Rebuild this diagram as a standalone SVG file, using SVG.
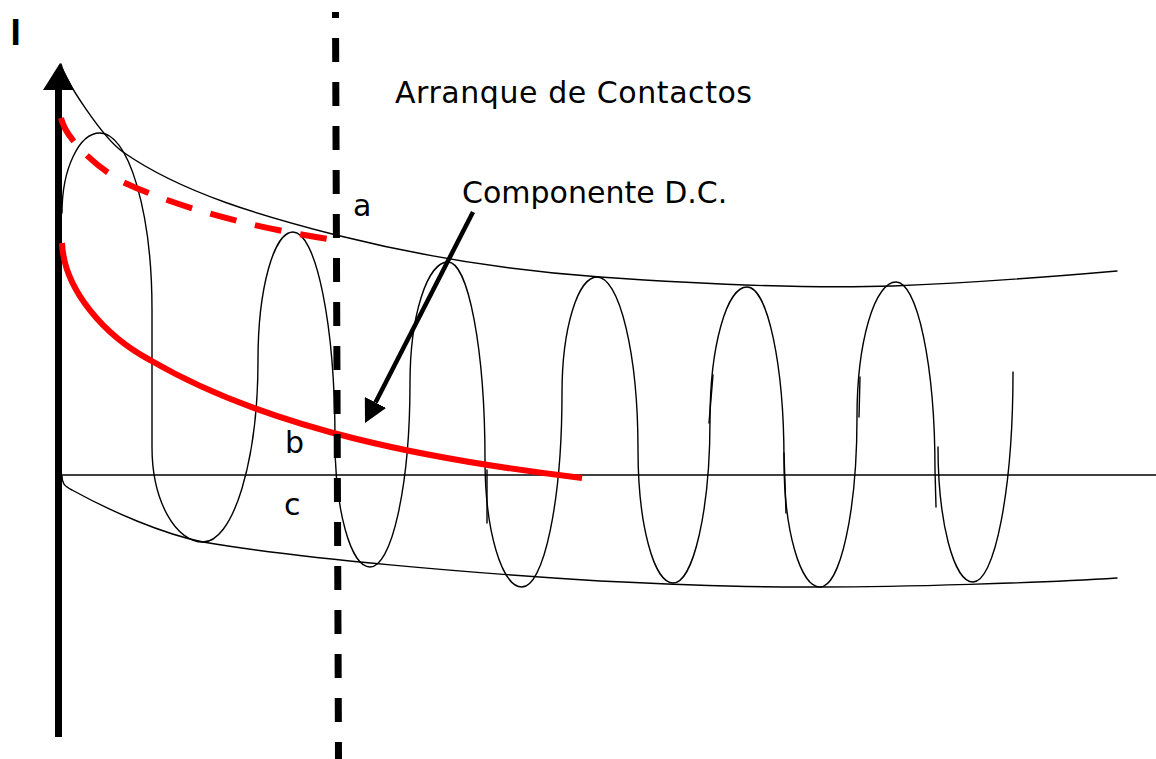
<svg xmlns="http://www.w3.org/2000/svg" width="1156" height="759" viewBox="0 0 1156 759">
<style>
.thin{fill:none;stroke:#000;stroke-width:1.4;stroke-linecap:round;stroke-linejoin:round}
.red{fill:none;stroke:#ff0000;stroke-width:6}
.lbl{font-family:"DejaVu Sans",Verdana,sans-serif;font-size:30px;fill:#000}
</style>
<defs>
<marker id="ah" markerUnits="userSpaceOnUse" markerWidth="23" markerHeight="24" viewBox="0 0 23 24" refX="0" refY="12" orient="auto">
<path d="M0,0 L23,12 L0,24 Z" fill="#000"/>
</marker>
</defs>
<rect width="1156" height="759" fill="#fff"/>
<g id="envelopes">
<path class="thin" d="M61,64 C65,81 103,138 123,152 C183,194 266,217 336,235 C424,257 512,271 600,277 C700,284 800,289 893,286 C970,283 1060,276 1117,271"/>
<path class="thin" d="M62,476 C62,483 64,486 72,490 C112,512 163,534 203,542 C303,559 470,573 600,581 C680,585 760,587.5 820,587 C900,587 1040,583 1117,578"/>
</g>
<g id="baseline">
<line class="thin" x1="62" y1="475" x2="1156" y2="475"/>
</g>
<g id="wave">
<path class="thin" d="M62,213 A38,80 0 0 1 100,133 A52,177 0 0 1 152,310 L152,447 A51,95 0 0 0 203,542 A55,182 0 0 0 258,360 A35,128 0 0 1 293,232 A42,208 0 0 1 335,440 A35,127 0 0 0 370,567 A40,184 0 0 0 410,383 A38,121 0 0 1 448,262 A37,198 0 0 1 485,460 A37,127 0 0 0 522,587 A40,194 0 0 0 562,393 A35,116 0 0 1 597,277 A41,173 0 0 1 638,450 A35,133 0 0 0 673,583 A37,163 0 0 0 710,420 A37,133 0 0 1 747,287 A37,173 0 0 1 784,460 A36,127 0 0 0 820,587 A37,170 0 0 0 857,417 A39,135 0 0 1 896,282 A39,188 0 0 1 935,470 L936,507"/>
<path class="thin" d="M938,447 A35,135 0 0 0 973,582 A40,210 0 0 0 1013,372"/>
<path class="thin" d="M487,470 L487,523 M713,375 L709,423 M784,453 L786,513 M860,377 L859,417"/>
</g>
<g id="axis">
<line x1="58.5" y1="737" x2="58.5" y2="86" stroke="#000" stroke-width="7"/>
<polygon points="60,63 43,90 74,90" fill="#000"/>
</g>
<g id="dc-peak-curve">
<path class="red" stroke-dasharray="27 19" d="M61,118 C66,140 98,168.5 123,182 C183,210 258,228 328,239"/>
</g>
<g id="dc-component">
<path class="red" d="M62,243 C64,290 105,336 150,360 C270,430 432,460 582,478"/>
</g>
<g id="contact-line">
<line x1="335.5" y1="12" x2="338.5" y2="759" stroke="#000" stroke-width="7" stroke-dasharray="24 20" stroke-dashoffset="18"/>
</g>
<g id="connectors">
<line x1="473" y1="212" x2="375.5" y2="402.5" stroke="#000" stroke-width="4.5" marker-end="url(#ah)"/>
</g>
<g id="labels">
<text x="10.6" y="45" font-family="'Liberation Sans',Arial,sans-serif" font-size="37" font-weight="bold">I</text>
<text class="lbl" x="395" y="103" textLength="357" lengthAdjust="spacing">Arranque de Contactos</text>
<text class="lbl" x="462" y="203">Componente D.C.</text>
<text class="lbl" x="353" y="216">a</text>
<text class="lbl" x="285" y="453">b</text>
<text class="lbl" x="284" y="515">c</text>
</g>
</svg>
